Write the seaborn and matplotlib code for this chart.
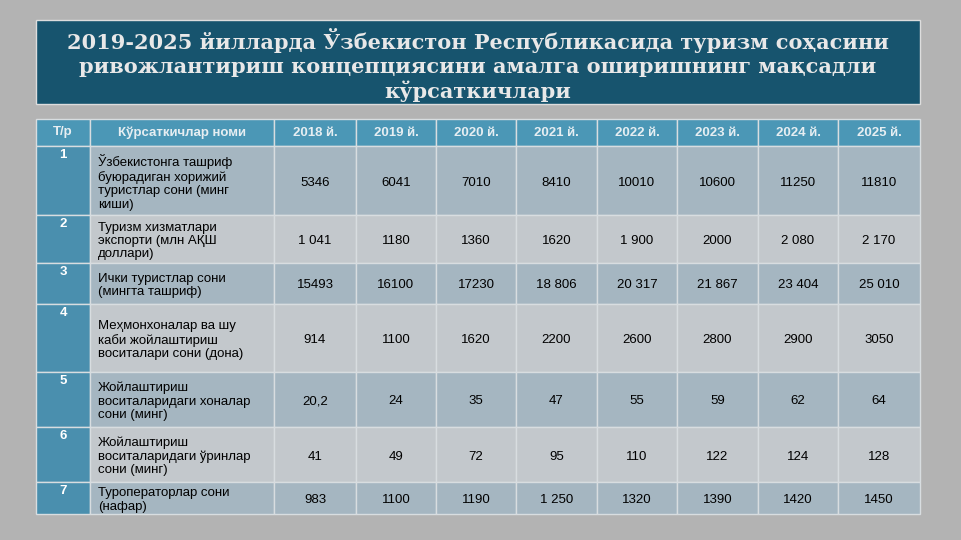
import matplotlib
matplotlib.use("Agg")
import matplotlib.pyplot as plt
import seaborn as sns
from matplotlib.patches import Rectangle

sns.set_style("white")
plt.rcParams['font.family'] = ['Liberation Sans', 'DejaVu Sans']

title = "2019-2025 йилларда Ўзбекистон Республикасида туризм соҳасини\nривожлантириш концепциясини амалга оширишнинг мақсадли\nкўрсаткичлари"
headers = ["Т/р", "Кўрсаткичлар номи", "2018 й.", "2019 й.", "2020 й.", "2021 й.", "2022 й.", "2023 й.", "2024 й.", "2025 й."]
row_nums = ["1", "2", "3", "4", "5", "6", "7"]
indicators = [
    "Ўзбекистонга ташриф\nбуюрадиган хорижий\nтуристлар сони (минг\nкиши)",
    "Туризм хизматлари\nэкспорти (млн АҚШ\nдоллари)",
    "Ички туристлар сони\n(мингта ташриф)",
    "Меҳмонхоналар ва шу\nкаби жойлаштириш\nвоситалари сони (дона)",
    "Жойлаштириш\nвоситаларидаги хоналар\nсони (минг)",
    "Жойлаштириш\nвоситаларидаги ўринлар\nсони (минг)",
    "Туроператорлар сони\n(нафар)",
]
values = [
    ["5346", "6041", "7010", "8410", "10010", "10600", "11250", "11810"],
    ["1 041", "1180", "1360", "1620", "1 900", "2000", "2 080", "2 170"],
    ["15493", "16100", "17230", "18 806", "20 317", "21 867", "23 404", "25 010"],
    ["914", "1100", "1620", "2200", "2600", "2800", "2900", "3050"],
    ["20,2", "24", "35", "47", "55", "59", "62", "64"],
    ["41", "49", "72", "95", "110", "122", "124", "128"],
    ["983", "1100", "1190", "1 250", "1320", "1390", "1420", "1450"],
]

col_x = [36, 90, 274, 356, 436, 516, 597, 677, 758, 838, 920]
row_y = [119, 146, 215, 263, 304, 372, 427, 482, 514]

fig = plt.figure(figsize=(9.61, 5.4), dpi=100)
fig.patch.set_facecolor("#b3b3b3")
ax = fig.add_axes([0, 0, 1, 1])
ax.set_xlim(0, 961); ax.set_ylim(540, 0); ax.axis("off")

ax.add_patch(Rectangle((36, 20), 884, 84, facecolor="#17546e", edgecolor="#dddddd", lw=1))
ax.text(478, 65, title, ha="center", va="center", color="#e8e8e8", fontsize=15,
        fontweight="bold", family=["DejaVu Serif"], linespacing=1.2)

for j, h in enumerate(headers):
    x0, x1 = col_x[j], col_x[j + 1]
    ax.add_patch(Rectangle((x0, row_y[0]), x1 - x0, row_y[1] - row_y[0], facecolor="#4b97b6", edgecolor="#d8dde0", lw=1))
    ax.text((x0 + x1) / 2, (row_y[0] + row_y[1]) / 2, h, ha="center", va="center", color="#e6eef2", fontsize=9.5, fontweight="bold")

for i in range(len(row_nums)):
    y0, y1 = row_y[i + 1], row_y[i + 2]
    bg = "#a5b6c1" if i % 2 == 0 else "#c3c8cc"
    ax.add_patch(Rectangle((col_x[0], y0), col_x[1] - col_x[0], y1 - y0, facecolor="#4a8fae", edgecolor="#d8dde0", lw=1))
    ax.text(63, y0 + 3, row_nums[i], ha="center", va="top", color="white", fontsize=9.5, fontweight="bold")
    ax.add_patch(Rectangle((col_x[1], y0), col_x[2] - col_x[1], y1 - y0, facecolor=bg, edgecolor="#d8dde0", lw=1))
    ax.text(98, (y0 + y1) / 2 + 2, indicators[i], ha="left", va="center", color="black", fontsize=9.5, linespacing=1.15)
    for j, v in enumerate(values[i]):
        x0, x1 = col_x[j + 2], col_x[j + 3]
        ax.add_patch(Rectangle((x0, y0), x1 - x0, y1 - y0, facecolor=bg, edgecolor="#d8dde0", lw=1))
        ax.text((x0 + x1) / 2, (y0 + y1) / 2 + 2, v, ha="center", va="center", color="black", fontsize=9.5)

fig.savefig("out.png", dpi=100, facecolor=fig.get_facecolor())
